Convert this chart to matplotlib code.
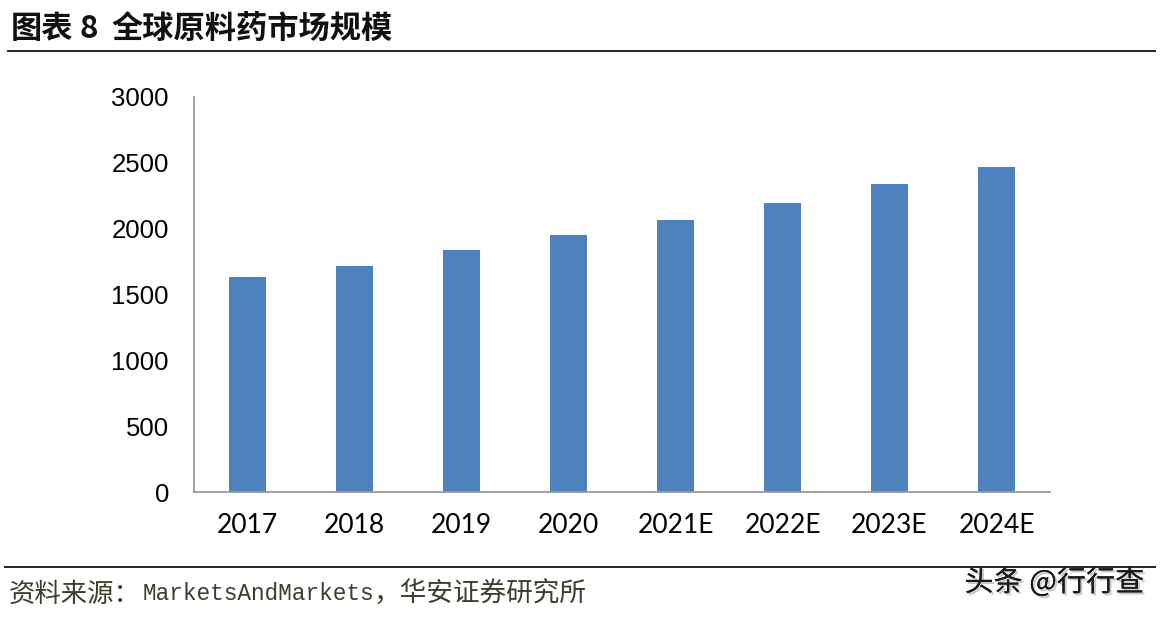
import matplotlib
matplotlib.use("Agg")
import matplotlib.pyplot as plt
import matplotlib.patheffects as pe

categories = ["2017", "2018", "2019", "2020", "2021E", "2022E", "2023E", "2024E"]
values = [1633, 1716, 1838, 1952, 2066, 2195, 2339, 2468]
yticks = [0, 500, 1000, 1500, 2000, 2500, 3000]

title_label = "图表"
title_num = "8"
title_text = "全球原料药市场规模"
source_parts = ["资料来源：", "MarketsAndMarkets", "，华安证券研究所"]
mark = "头条 @行行查"

W, H = 1162, 619
fig = plt.figure(figsize=(W / 100, H / 100), dpi=100)
ax = fig.add_axes([194 / W, 1 - 492 / H, (1050 - 194) / W, (492 - 97) / H])

x = list(range(len(categories)))
ax.bar(x, values, width=0.34, color="#4F81BD", zorder=2)
ax.set_xlim(-0.5, len(categories) - 0.5)
ax.set_ylim(0, 3000)
ax.set_yticks(yticks)
ax.set_yticklabels([str(v) for v in yticks], fontsize=18.5, family="Liberation Sans")
ax.set_xticks(x)
ax.set_xticklabels(categories, fontsize=19, family="Lato")
ax.tick_params(axis="both", length=0)
ax.tick_params(axis="y", pad=18)
ax.tick_params(axis="x", pad=15)
for s in ["top", "right"]:
    ax.spines[s].set_visible(False)
for s in ["left", "bottom"]:
    ax.spines[s].set_color("#9a9a9a")
    ax.spines[s].set_linewidth(1.3)

cjk = ["Noto Sans CJK SC", "DejaVu Sans"]
ty = 1 - 29 / H
fig.text(11 / W, ty, title_label, fontsize=22.5, fontweight="bold", family=cjk,
         va="center", ha="left", color="#111111")
fig.text(79 / W, ty, title_num, fontsize=22.5, fontweight="bold", family=cjk,
         va="center", ha="left", color="#111111")
fig.text(112 / W, ty, title_text, fontsize=22.5, fontweight="bold", family=cjk,
         va="center", ha="left", color="#111111")
fig.add_artist(plt.Line2D([8 / W, 1155 / W], [1 - 51 / H, 1 - 51 / H], color="#222222", lw=1.4))
fig.add_artist(plt.Line2D([5 / W, 1155 / W], [1 - 567 / H, 1 - 567 / H], color="#222222", lw=1.4))

sy = 1 - 594 / H
scol = "#3d3d2c"
fig.text(9 / W, sy, source_parts[0], fontsize=19, family=cjk, va="center", ha="left", color=scol)
fig.text(143 / W, sy, source_parts[1], fontsize=16.4, family="Liberation Mono", va="center",
         ha="left", color=scol)
fig.text(373 / W, sy, source_parts[2], fontsize=19.2, family=cjk, va="center", ha="left", color=scol)

t = fig.text(1144 / W, 1 - 583 / H, mark, fontsize=21, family=cjk, va="center", ha="right",
             color="#1a1a1a")
t.set_path_effects([pe.withSimplePatchShadow(offset=(1.5, -1.5), shadow_rgbFace="#bbbbbb", alpha=0.8), pe.Normal()])

fig.savefig("out.png", dpi=100, facecolor="white")
